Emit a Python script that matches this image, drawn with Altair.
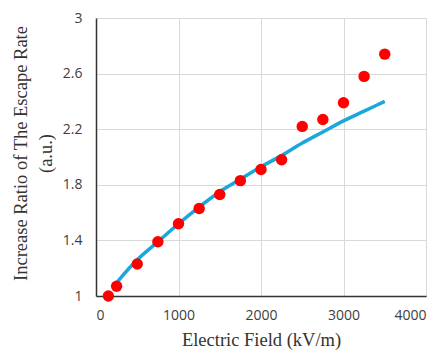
import altair as alt
import pandas as pd

# Measured points
field_kv = [150, 250, 500, 750, 1000, 1250, 1500, 1750, 2000, 2250, 2500, 2750, 3000, 3250, 3500]
ratio = [1.00, 1.07, 1.23, 1.39, 1.52, 1.63, 1.73, 1.83, 1.91, 1.98, 2.22, 2.27, 2.39, 2.58, 2.74]

# Fitted curve
fit_x = [230, 300, 500, 750, 1000, 1250, 1500, 1750, 2000, 2250, 2500, 2750, 3000, 3250, 3500]
fit_y = [1.08, 1.13, 1.26, 1.39, 1.52, 1.64, 1.75, 1.84, 1.93, 2.01, 2.10, 2.18, 2.26, 2.33, 2.40]

x_ticks = [0, 1000, 2000, 3000, 4000]
y_ticks = [1, 1.4, 1.8, 2.2, 2.6, 3]

pts = pd.DataFrame({"x": field_kv, "y": ratio})
fit = pd.DataFrame({"x": fit_x, "y": fit_y})

xscale = alt.Scale(domain=[0, 4000], nice=False, zero=False)
yscale = alt.Scale(domain=[1, 3], nice=False, zero=False)

xaxis = alt.Axis(
    values=x_ticks, format="d", title="Electric Field (kV/m)",
    ticks=False, labelPadding=12, titlePadding=8,
    labelFont="Open Sans", labelFontSize=14, labelColor="#404040",
    titleFont="Liberation Serif", titleFontSize=18.5, titleFontWeight="normal", titleColor="#333333",
    domainColor="#333333", domainWidth=1.5,
    grid=True, gridColor="#d9d9d9", gridWidth=1,
)
yaxis = alt.Axis(
    values=y_ticks, format="~g",
    title=["Increase Ratio of  The Escape Rate", "(a.u.)"],
    ticks=False, labelPadding=14,
    labelFont="Open Sans", labelFontSize=14, labelColor="#404040",
    titleFont="Liberation Serif", titleFontSize=18.5, titleFontWeight="normal", titleColor="#333333",
    titleLineHeight=25, titleX=-66, titleY=135,
    domainColor="#333333", domainWidth=1.5,
    grid=True, gridColor="#d9d9d9", gridWidth=1,
)

line = alt.Chart(fit).mark_line(color="#1aa7dc", strokeWidth=3.5, interpolate="monotone").encode(
    x=alt.X("x:Q", scale=xscale, axis=xaxis),
    y=alt.Y("y:Q", scale=yscale, axis=yaxis),
)
dots = alt.Chart(pts).mark_circle(color="#ff0000", opacity=1, size=130).encode(
    x=alt.X("x:Q", scale=xscale),
    y=alt.Y("y:Q", scale=yscale),
)

chart = (
    alt.layer(line, dots)
    .properties(width=330, height=278, autosize=alt.AutoSizeParams(type="none"),
                padding={"left": 88, "top": 10, "right": 4, "bottom": 54})
    .configure_view(strokeWidth=0)
    .configure(background="white")
)

chart.save("out.html", embed_options={"renderer": "svg", "actions": False})
